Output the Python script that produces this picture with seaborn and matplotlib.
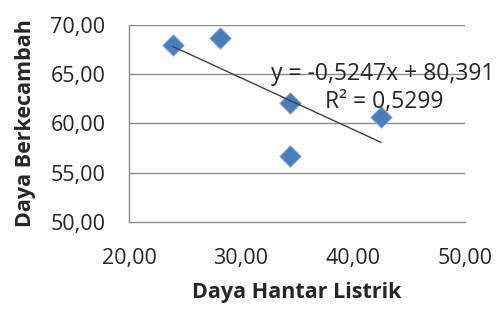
import numpy as np
import pandas as pd
import seaborn as sns
import matplotlib.pyplot as plt
from matplotlib.ticker import FuncFormatter

# values
dhl = [23.9, 28.1, 34.4, 34.4, 42.5]
daya_kecambah = [68.0, 68.7, 62.1, 56.7, 60.7]
eq_text = "y = -0,5247x + 80,391"
r2_text = "R² = 0,5299"
x_ticks = [20, 30, 40, 50]
y_ticks = [50, 55, 60, 65, 70]

df = pd.DataFrame({"x": dhl, "y": daya_kecambah})

sns.set_style("white")
plt.rcParams['font.family'] = ['Open Sans', 'DejaVu Sans']

fig = plt.figure(figsize=(4.99, 3.09), dpi=100)
ax = fig.add_axes([129 / 499, 1 - 222 / 309, (465 - 129) / 499, (222 - 25) / 309])

grid_c = "#8c8c8c"
for yv in y_ticks[1:]:
    ax.axhline(yv, color=grid_c, lw=1.0, zorder=0)

sns.regplot(data=df, x="x", y="y", ax=ax, ci=None, truncate=True, marker="D",
            scatter_kws=dict(s=120, color="#4a7ebb", alpha=1,
                             edgecolors="#8fb0da", linewidths=0.6, zorder=3),
            line_kws=dict(color="#404040", lw=1.0, zorder=4))

ax.set_xlim(20, 50)
ax.set_ylim(50, 70)
ax.set_xticks(x_ticks)
ax.set_yticks(y_ticks)
fmt = FuncFormatter(lambda v, p: f"{v:.2f}".replace(".", ","))
ax.xaxis.set_major_formatter(fmt)
ax.yaxis.set_major_formatter(fmt)

for s in ["top", "right"]:
    ax.spines[s].set_visible(False)
for s in ["left", "bottom"]:
    ax.spines[s].set_color(grid_c)
    ax.spines[s].set_linewidth(1.0)

ax.tick_params(axis="both", colors=grid_c, length=8, width=1.0, direction="out",
               labelsize=15.5, labelcolor="#262626")
ax.tick_params(axis="y", pad=9)
ax.tick_params(axis="x", pad=11)

ax.set_xlabel("Daya Hantar Listrik", fontsize=15.5, fontweight="bold", color="#262626", labelpad=9)
ax.set_ylabel("Daya Berkecambah", fontsize=15.5, fontweight="bold", color="#262626", labelpad=10)

ax.text(0.755, 0.75, eq_text, transform=ax.transAxes, ha="center", va="center",
        fontsize=16.5, color="#262626", zorder=5, clip_on=False)
ax.text(0.76, 0.61, r2_text, transform=ax.transAxes, ha="center", va="center",
        fontsize=16.5, color="#262626", zorder=5, clip_on=False)

fig.savefig("out.png", dpi=100)
